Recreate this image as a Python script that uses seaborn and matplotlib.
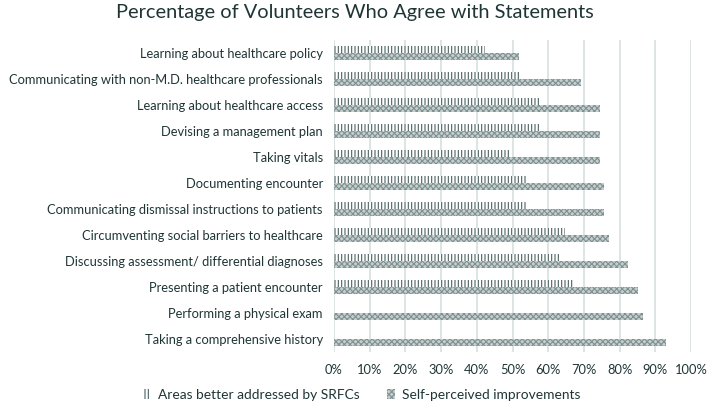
"""
Bar chart of volunteer agreement with statements (SRFC survey).
"""

import numpy as np
import pandas as pd
import matplotlib.pyplot as plt
import seaborn as sns

# Data (percent)
statements = [
    "Learning about healthcare policy",
    "Communicating with non-M.D. healthcare professionals",
    "Learning about healthcare access",
    "Devising a management plan",
    "Taking vitals",
    "Documenting encounter",
    "Communicating dismissal instructions to patients",
    "Circumventing social barriers to healthcare",
    "Discussing assessment/ differential diagnoses",
    "Presenting a patient encounter",
    "Performing a physical exam",
    "Taking a comprehensive history",
]
srfc_values = [42.3, 51.9, 58.1, 58.1, 49.2, 53.8, 53.8, 64.8, 63.5, 67.3, 0.0, 0.0]
self_values = [51.9, 69.2, 74.6, 74.6, 74.6, 75.7, 75.7, 77.1, 82.4, 85.2, 86.5, 93.1]
series_names = ["Areas better addressed by SRFCs", "Self-perceived improvements"]
x_ticks = list(range(0, 101, 10))

TEXT = "#1f3535"
GRID = "#d5dfdf"


def main():
    sns.set_theme(style="white")
    plt.rcParams["font.family"] = ["Lato", "DejaVu Sans"]
    plt.rcParams["hatch.linewidth"] = 0.8

    df = pd.DataFrame({
        "statement": statements * 2,
        "value": srfc_values + self_values,
        "series": [series_names[0]] * len(statements) + [series_names[1]] * len(statements),
    })

    fig = plt.figure(figsize=(7.09, 4.09), dpi=100)
    ax = fig.add_axes([334 / 709, 1 - 352 / 409, 357 / 709, 312 / 409])

    sns.barplot(
        data=df, x="value", y="statement", hue="series",
        order=statements, hue_order=series_names,
        orient="h", width=0.55, ax=ax, legend=False,
    )

    # Hatch styles: vertical stripes vs. fine checker
    styles = [
        dict(facecolor="white", edgecolor="#4c6262", hatch="|||||"),
        dict(facecolor="#c6cfcf", edgecolor="#7f9090", hatch="xxxxxx"),
    ]
    for container, st in zip(ax.containers, styles):
        for bar in container:
            bar.set_facecolor(st["facecolor"])
            bar.set_edgecolor(st["edgecolor"])
            bar.set_hatch(st["hatch"])
            bar.set_linewidth(0)

    ax.set_xlim(0, 100)
    ax.set_xticks(x_ticks)
    ax.set_xticklabels([f"{t}%" for t in x_ticks])
    ax.set_xlabel("")
    ax.set_ylabel("")
    ax.xaxis.grid(True, color=GRID, linewidth=1.2)
    ax.set_axisbelow(True)
    for spine in ax.spines.values():
        spine.set_visible(False)
    ax.tick_params(axis="y", length=0, labelsize=9.3, colors=TEXT, pad=8)
    ax.tick_params(axis="x", length=0, labelsize=9.3, colors=TEXT, pad=9)

    fig.suptitle("Percentage of Volunteers Who Agree with Statements",
                 x=0.5, y=0.99, fontsize=14.4, color=TEXT)

    handles = [plt.Rectangle((0, 0), 1, 1, facecolor=st["facecolor"],
                             edgecolor=st["edgecolor"], hatch=st["hatch"], linewidth=0)
               for st in styles]
    fig.legend(handles, series_names, loc="lower center", bbox_to_anchor=(0.51, -0.01),
               ncol=2, frameon=False, fontsize=9.9, labelcolor=TEXT,
               handlelength=0.6, handleheight=0.8, handletextpad=0.5, columnspacing=2.0)

    plt.savefig("out.png", dpi=100)
    plt.close()


if __name__ == "__main__":
    main()
